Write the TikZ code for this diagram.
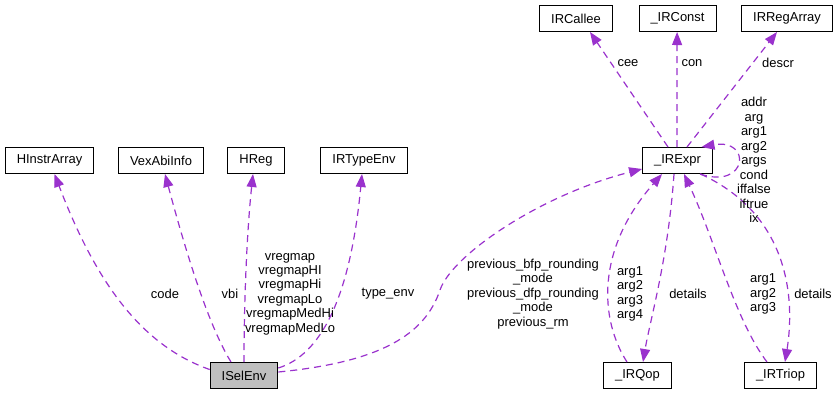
\documentclass[tikz,border=0pt]{standalone}
\usepackage{fontspec}
\setmainfont{Liberation Sans}
\usetikzlibrary{arrows.meta}
\definecolor{edgepurple}{HTML}{9A32CD}
\definecolor{focusgray}{HTML}{BFBFBF}
\begin{document}
\begin{tikzpicture}[x=1bp,y=-1bp,
  cls/.style={draw=black,line width=1bp,minimum height=26bp,inner xsep=11.5bp,inner ysep=0pt,
    font=\fontsize{13}{14.5}\selectfont},
  focus/.style={cls,fill=focusgray},
  rel/.style={draw=edgepurple,line width=1.2bp,dash pattern=on 7bp off 5bp,
    -{Triangle[length=13bp,width=10bp]}},
  lbl/.style={align=center,inner sep=0pt,font=\fontsize{13}{14.5}\selectfont}]
\useasboundingbox (0,0) rectangle (839,395);

% classes
\node[cls]   (hinstr)   at (49.5,160.5)  {HInstrArray};
\node[cls]   (vex)      at (161,160.5)   {VexAbiInfo};
\node[cls]   (hreg)     at (256,160.5)   {HReg};
\node[cls]   (irtype)   at (364,160.5)   {IRTypeEnv};
\node[focus] (isel)     at (244,375.5)   {ISelEnv};
\node[cls]   (irexpr)   at (677.5,160.5) {\_IRExpr};
\node[cls]   (callee)   at (576,18.5)    {IRCallee};
\node[cls]   (irconst)  at (677.5,18.5)  {\_IRConst};
\node[cls]   (regarray) at (787,18.5)    {IRRegArray};
\node[cls]   (irqop)    at (637.5,375.5) {\_IRQop};
\node[cls]   (irtriop)  at (780.5,375.5) {\_IRTriop};

% ISelEnv members
\draw[rel] ([yshift=6bp]isel.west) .. controls (140,345) and (95,280) .. ([xshift=5bp]hinstr.south);
\draw[rel] ([xshift=-13bp]isel.north) .. controls (205,320) and (180,230) .. ([xshift=4bp]vex.south);
\draw[rel] (isel.north) .. controls (244,300) and (247,230) .. ([xshift=-3bp]hreg.south);
\draw[rel] ([yshift=7.5bp]isel.east) .. controls (320,355) and (350,300) .. ([xshift=-2bp]irtype.south);
\draw[rel] ([yshift=3.5bp]isel.east) .. controls (380,362) and (425,335) .. (440,290)
  .. controls (452,255) and (540,195) .. ([yshift=-8.5bp]irexpr.west);

\node[lbl] (lcode)  at (165,294) {code};
\node[lbl] (lvbi)   at (230,294) {vbi};
\node[lbl] (lvreg)  at (290,294) {vregmap\\vregmapHI\\vregmapHi\\vregmapLo\\vregmapMedHi\\vregmapMedLo};
\node[lbl] (ltype)  at (388,294) {type\_env};
\node[lbl] (lprev)  at (533,294) {previous\_bfp\_rounding\\\_mode\\previous\_dfp\_rounding\\\_mode\\previous\_rm};

% _IRExpr members
\draw[rel] ([xshift=-9.5bp]irexpr.north) -- ([xshift=14bp]callee.south);
\draw[rel] ([xshift=-0.6bp]irexpr.north) -- ([xshift=-0.4bp]irconst.south);
\draw[rel] ([xshift=9.5bp]irexpr.north) -- ([xshift=-10bp]regarray.south);
\draw[rel] ([xshift=22.5bp]irexpr.south) .. controls (748,190) and (752,138) .. ([xshift=24bp]irexpr.north);
\draw[rel] ([xshift=-3.5bp]irexpr.south) .. controls (668,260) and (650,320) .. ([xshift=5.5bp]irqop.north);
\draw[rel] ([xshift=23bp]irexpr.south) .. controls (790,215) and (795,300) .. ([xshift=4.5bp]irtriop.north);

\node[lbl] (lcee)   at (628,63)  {cee};
\node[lbl] (lcon)   at (692,63)  {con};
\node[lbl] (ldescr) at (778,63)  {descr};
\node[lbl] (lself)  at (754,160) {addr\\arg\\arg1\\arg2\\args\\cond\\iffalse\\iftrue\\ix};
\node[lbl] (lqdet)  at (688,294) {details};
\node[lbl] (ltdet)  at (813,294) {details};

% operand records
\draw[rel] ([xshift=-10.5bp]irqop.north) .. controls (600,320) and (595,250) .. ([xshift=-15.5bp]irexpr.south);
\draw[rel] ([xshift=-13.5bp]irtriop.north) .. controls (735,320) and (715,240) .. ([xshift=6.5bp]irexpr.south);

\node[lbl] (lqarg)  at (630,294) {arg1\\arg2\\arg3\\arg4};
\node[lbl] (ltarg)  at (763,294) {arg1\\arg2\\arg3};
\end{tikzpicture}
\end{document}
